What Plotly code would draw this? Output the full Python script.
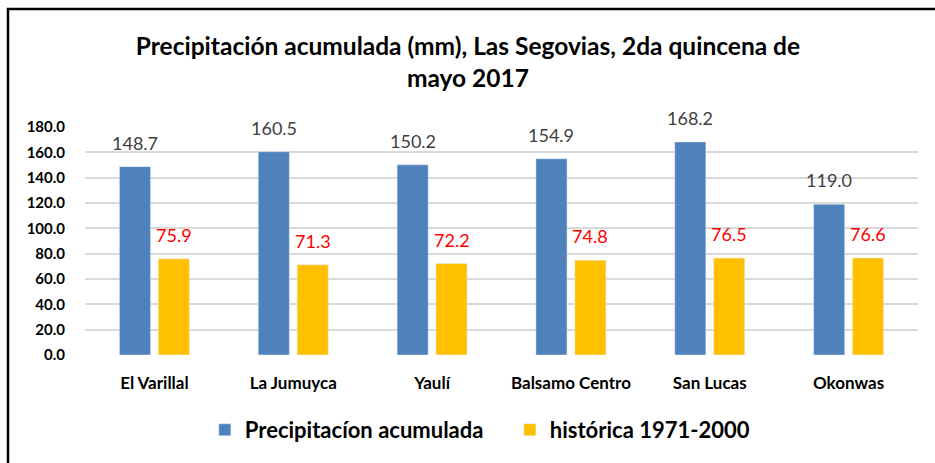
import plotly.graph_objects as go

categories = ["El Varillal", "La Jumuyca", "Yaulí", "Balsamo Centro", "San Lucas", "Okonwas"]
precip = [148.7, 160.5, 150.2, 154.9, 168.2, 119.0]
historic = [75.9, 71.3, 72.2, 74.8, 76.5, 76.6]
series_names = ["Precipitacíon acumulada", "histórica 1971-2000"]
y_ticks = [0, 20, 40, 60, 80, 100, 120, 140, 160, 180]

BLUE = "#4f81bd"
YELLOW = "#ffc000"
FONT = "Lato"

W, H = 935, 463
ML, MR, MT, MB = 85, 17, 127, 108

fig = go.Figure()
fig.add_trace(go.Bar(x=categories, y=precip, name=series_names[0], marker_color=BLUE))
fig.add_trace(go.Bar(x=categories, y=historic, name=series_names[1], marker_color=YELLOW))

annotations = []
for c, v in zip(categories, precip):
    annotations.append(dict(x=c, y=v, text=f"{v:.1f}", showarrow=False, xshift=-19.5, yshift=24,
                            yanchor="middle", font=dict(family=FONT, size=18, color="#404040")))
for c, v in zip(categories, historic):
    annotations.append(dict(x=c, y=v, text=f"{v:.1f}", showarrow=False, xshift=19.5, yshift=24,
                            yanchor="middle", font=dict(family=FONT, size=18, color="#ff0000")))

pw = W - ML - MR
ph = H - MT - MB
# frame around the chart (left/top visible; right/bottom beyond the picture)
x0 = (8 - ML) / pw
x1 = (W + 5 - ML) / pw
y1 = (H - MB - 9) / ph
y0 = (H - MB - (H + 5)) / ph

fig.update_layout(
    width=W, height=H,
    margin=dict(l=ML, r=MR, t=MT, b=MB),
    paper_bgcolor="white", plot_bgcolor="white",
    barmode="group", bargap=0.44, bargroupgap=0.2,
    title=dict(text="Precipitación acumulada (mm), Las Segovias, 2da quincena de<br>mayo 2017",
               x=0.5005, xanchor="center", y=1 - 55 / H, yanchor="middle",
               font=dict(family=FONT, size=24.5, color="black", weight="bold")),
    font=dict(family=FONT),
    yaxis=dict(range=[0, 180], tickvals=y_ticks, tickformat=".1f", showgrid=True,
               gridcolor="#d9d9d9", gridwidth=1.5, zeroline=False, showline=False,
               ticks="outside", ticklen=16, tickcolor="rgba(0,0,0,0)",
               tickfont=dict(family=FONT, size=15, color="black", weight="bold")),
    xaxis=dict(showgrid=False, showline=False, zeroline=False,
               ticks="outside", ticklen=13, tickcolor="rgba(0,0,0,0)",
               tickfont=dict(family=FONT, size=17, color="black", weight="bold")),
    legend=dict(orientation="h", x=0.510, xanchor="center", y=-(430 - (H - MB)) / ph,
                yanchor="middle", font=dict(family=FONT, size=22, color="black", weight="bold"),
                traceorder="normal", entrywidth=260, entrywidthmode="pixels"),
    annotations=annotations,
    shapes=[dict(type="rect", xref="paper", yref="paper", x0=x0, x1=x1, y0=y0, y1=y1,
                 line=dict(color="black", width=2.5), layer="below")],
)

fig.write_html("out.html", config={"displayModeBar": False},
               post_script="document.body.style.margin='0';")
